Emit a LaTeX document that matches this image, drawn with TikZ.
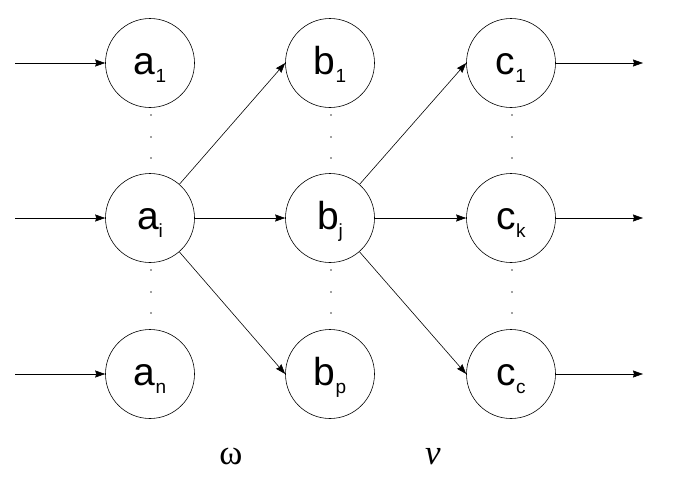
\documentclass[tikz,border=0pt]{standalone}
\usepackage{fontspec}
\setmainfont{Liberation Sans}
\newfontfamily\grk{Liberation Serif}
\usetikzlibrary{arrows.meta}
\tikzset{
  neuron/.style={circle, draw, line width=0.6pt, minimum size=89pt, inner sep=0pt,
    text height=23pt, text depth=0pt, font=\fontsize{39}{42}\selectfont},
  conn/.style={line width=0.6pt, -{Stealth[length=10pt,width=7pt,inset=1pt]}},
  vdot/.style={circle, fill=black!75, inner sep=0pt, minimum size=1.8pt},
  greek/.style={font=\grk\fontsize{35}{38}\selectfont, anchor=base, inner sep=0pt}
}
\newcommand{\sbx}[1]{\raisebox{-8pt}{\fontsize{19}{21}\selectfont #1}}
\begin{document}
\begin{tikzpicture}[x=1pt,y=-1pt]
\useasboundingbox (0,0) rectangle (674,477);
% nodes
\node[neuron] (a1) at (150,63) {a\sbx{1}};
\node[neuron] (ai) at (150,218) {a\sbx{i}};
\node[neuron] (an) at (150,374) {a\sbx{n}};
\node[neuron] (b1) at (330,63) {b\sbx{1}};
\node[neuron] (bj) at (330,218) {b\sbx{j}};
\node[neuron] (bp) at (330,374) {b\sbx{p}};
\node[neuron] (c1) at (511,63) {c\sbx{1}};
\node[neuron] (ck) at (511,218) {c\sbx{k}};
\node[neuron] (cc) at (511,374) {c\sbx{c}};
% vertical dots
\foreach \col in {150,330,511}{
  \foreach \yy in {115,137,158,270,292,313}{
    \node[vdot] at (\col+1,\yy) {};
  }
}
% inputs
\coordinate (in1) at (15,63);
\coordinate (in2) at (15,218);
\coordinate (in3) at (15,374);
\draw[conn] (in1) -- (a1);
\draw[conn] (in2) -- (ai);
\draw[conn] (in3) -- (an);
% outputs
\coordinate (out1) at (643,63);
\coordinate (out2) at (643,218);
\coordinate (out3) at (643,374);
\draw[conn] (c1) -- (out1);
\draw[conn] (ck) -- (out2);
\draw[conn] (cc) -- (out3);
% internal connections
\draw[conn] (ai) -- (b1.west);
\draw[conn] (ai) -- (bj);
\draw[conn] (ai) -- (bp.west);
\draw[conn] (bj) -- (c1.west);
\draw[conn] (bj) -- (ck);
\draw[conn] (bj) -- (cc.west);
% weight labels
\node[greek] (w) at (231,464) {ω};
\node[greek] (v) at (433,464) {\itshape ν};
\end{tikzpicture}
\end{document}
